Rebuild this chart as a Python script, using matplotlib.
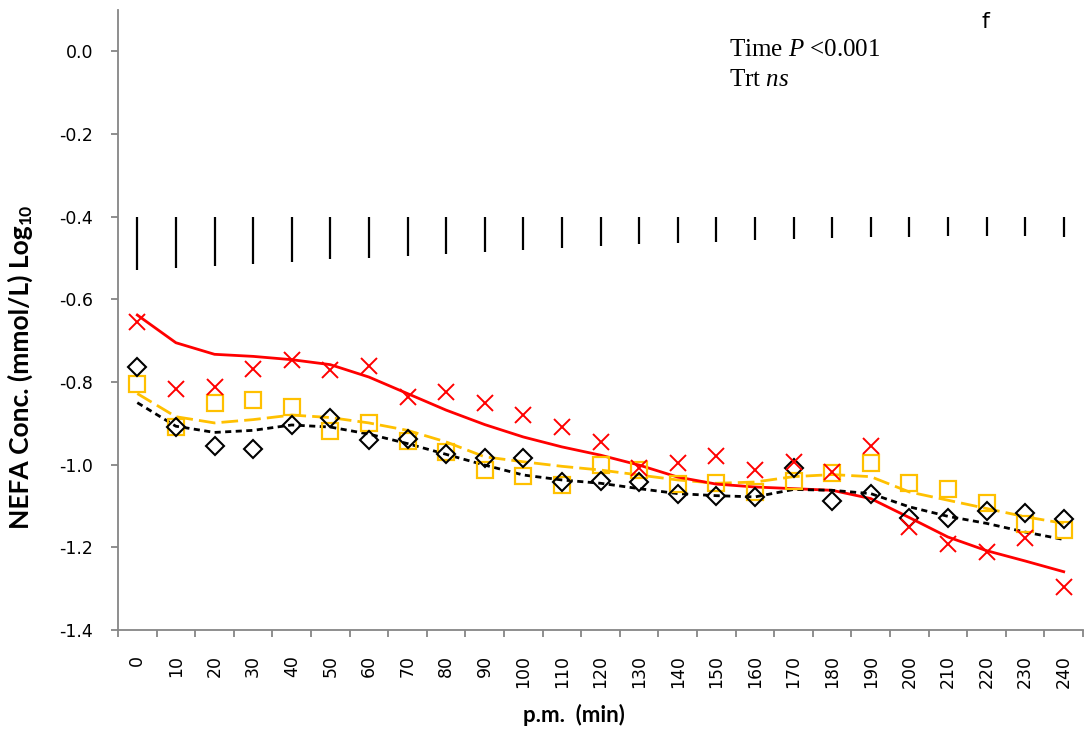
import matplotlib
matplotlib.use("Agg")
import matplotlib.pyplot as plt
import numpy as np

# p.m. sampling times (min)
times = list(range(0, 250, 10))

# NEFA concentration, log10 (mmol/L) - treatment means
nefa_red = [-0.655, -0.817, -0.813, -0.769, -0.746, -0.770, -0.762, -0.836, -0.824, -0.852,
            -0.879, -0.909, -0.945, -1.007, -0.995, -0.979, -1.012, -0.993, -1.017, -0.955,
            -1.150, -1.191, -1.211, -1.178, -1.297]
nefa_black = [-0.764, -0.909, -0.955, -0.963, -0.904, -0.888, -0.941, -0.939, -0.973, -0.985,
              -0.984, -1.042, -1.039, -1.042, -1.070, -1.076, -1.079, -1.008, -1.088, -1.072,
              -1.128, -1.128, -1.112, -1.117, -1.131]
nefa_yellow = [-0.806, -0.909, -0.851, -0.844, -0.860, -0.919, -0.899, -0.943, -0.969, -1.013,
               -1.028, -1.050, -1.000, -1.013, -1.047, -1.044, -1.066, -1.039, -1.021, -0.997,
               -1.044, -1.058, -1.092, -1.144, -1.157]

# smoothed trend for each treatment
trend_red = [-0.638, -0.705, -0.733, -0.738, -0.746, -0.758, -0.788, -0.828, -0.868, -0.903,
             -0.933, -0.957, -0.977, -1.001, -1.030, -1.047, -1.054, -1.058, -1.062, -1.082,
             -1.128, -1.175, -1.208, -1.233, -1.259]
trend_black = [-0.850, -0.907, -0.922, -0.917, -0.904, -0.909, -0.926, -0.949, -0.975, -1.001,
               -1.025, -1.037, -1.045, -1.058, -1.070, -1.075, -1.078, -1.060, -1.062, -1.070,
               -1.102, -1.125, -1.142, -1.163, -1.181]
trend_yellow = [-0.828, -0.884, -0.899, -0.891, -0.880, -0.886, -0.899, -0.917, -0.945, -0.981,
                -0.993, -1.004, -1.013, -1.025, -1.037, -1.045, -1.042, -1.029, -1.024, -1.029,
                -1.066, -1.086, -1.106, -1.126, -1.142]

# pooled SEM at each time point, drawn down from a fixed baseline
sem_base = -0.4
sem = [0.130, 0.124, 0.119, 0.114, 0.110, 0.102, 0.100, 0.095, 0.090, 0.085,
       0.081, 0.076, 0.071, 0.067, 0.064, 0.061, 0.056, 0.054, 0.052, 0.049,
       0.049, 0.047, 0.047, 0.047, 0.049]

y_ticks = [-1.4, -1.2, -1.0, -0.8, -0.6, -0.4, -0.2, 0.0]
y_labels = ["-1.4", "-1.2", "-1.0", "-0.8", "-0.6", "-0.4", "-0.2", "0.0"]

RED = "#FF0000"
GOLD = "#FFC000"
GREY = "#868686"

plt.rcParams["axes.unicode_minus"] = False
plt.rcParams["mathtext.fontset"] = "custom"
plt.rcParams["mathtext.it"] = "Liberation Serif:italic"
plt.rcParams["mathtext.rm"] = "Liberation Serif"

fig = plt.figure(figsize=(10.88, 7.31), dpi=100)
ax = fig.add_axes([118 / 1088, 101 / 731, 965 / 1088, 620 / 731])

x = np.arange(len(times))

ax.errorbar(x, [sem_base] * len(x), yerr=[sem, [0] * len(sem)], fmt="none",
            ecolor="black", elinewidth=1.6, capsize=0)

ax.plot(x, trend_yellow, color=GOLD, lw=2.0, ls=(0, (6, 2.2)), zorder=2)
ax.plot(x, trend_red, color=RED, lw=2.0, zorder=2)
ax.plot(x, trend_black, color="black", lw=2.0, ls=(0, (2.2, 1.6)), zorder=3)

ax.plot(x, nefa_yellow, ls="none", marker="s", ms=11, mfc="none", mec=GOLD, mew=1.6, zorder=4)
ax.plot(x, nefa_black, ls="none", marker="D", ms=9, mfc="none", mec="black", mew=1.5, zorder=5)
ax.plot(x, nefa_red, ls="none", marker="x", ms=11, mec=RED, mew=1.4, zorder=6)

ax.set_xlim(-0.5, len(x) - 0.5)
ax.set_ylim(-1.4, 0.1)

ax.set_yticks(y_ticks)
ax.set_yticklabels(y_labels)
ax.set_xticks(x)
ax.set_xticklabels([str(t) for t in times], rotation=90, va="top")
ax.set_xticks(np.arange(-0.5, len(x), 1.0), minor=True)

for side in ("top", "right"):
    ax.spines[side].set_visible(False)
for side in ("left", "bottom"):
    ax.spines[side].set_color(GREY)
    ax.spines[side].set_linewidth(1.3)

ax.tick_params(axis="y", direction="out", length=5, width=1.3, color=GREY,
               labelsize=12.5, pad=13)
ax.tick_params(axis="x", which="major", length=0, labelsize=12.5, pad=18)
ax.tick_params(axis="x", which="minor", direction="out", length=5, width=1.3, color=GREY)

# y label: main text plus a bold subscript placed right after it
ylab = fig.text(20 / 1088, 1 - 377 / 731, "NEFA Conc. (mmol/L) Log",
                rotation=90, ha="center", va="center", fontsize=19, fontweight="bold",
                family="Lato")
renderer = fig.canvas.get_renderer()
bb = ylab.get_window_extent(renderer)
fig.text((bb.x1 + 1) / fig.bbox.width, (bb.y1 + 1) / fig.bbox.height, "10",
         rotation=90, ha="right", va="bottom", fontsize=12.5, fontweight="bold",
         family="Lato")

fig.text(574 / 1088, 1 - 715 / 731, "p.m.  (min)", ha="center", va="center",
         fontsize=16, fontweight="bold", family="Lato")

fig.text(729 / 1088, 1 - 50 / 731, r"Time $\it{P}$ <0.001", ha="left", va="center",
         fontsize=18, family="Liberation Serif")
fig.text(729 / 1088, 1 - 80 / 731, r"Trt $\it{ns}$", ha="left", va="center",
         fontsize=18, family="Liberation Serif")
fig.text(985 / 1088, 1 - 22 / 731, "f", ha="center", va="center", fontsize=16)

fig.savefig("out.png", dpi=100)
